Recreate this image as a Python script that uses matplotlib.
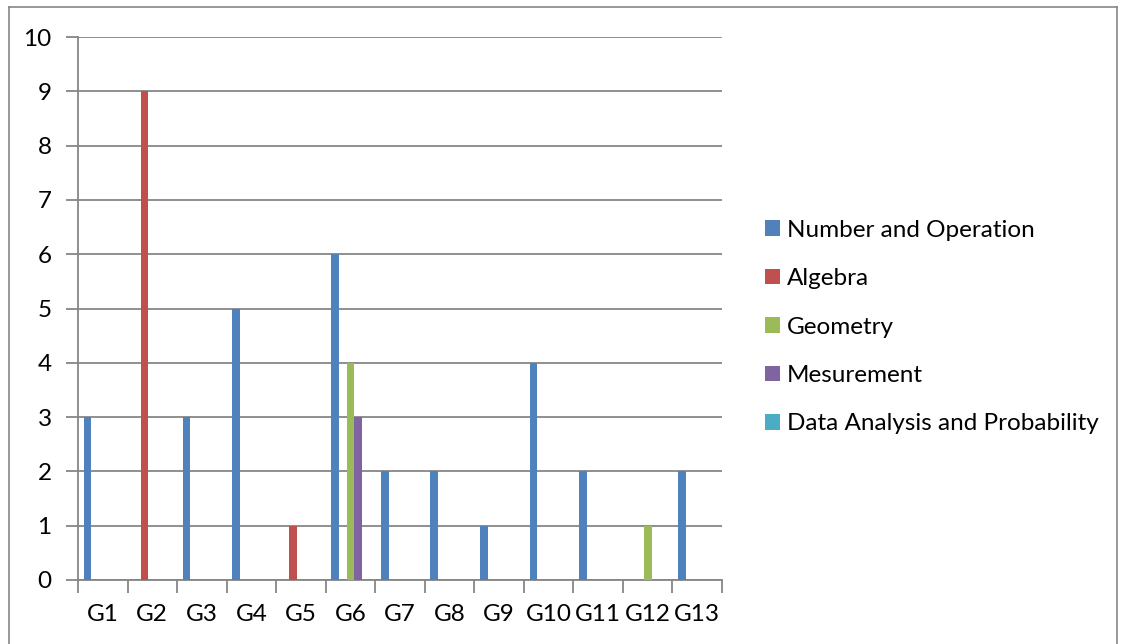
import numpy as np
import matplotlib
matplotlib.use("Agg")
import matplotlib.pyplot as plt
from matplotlib.lines import Line2D
from matplotlib.patches import Patch

plt.rcParams['font.family'] = ['Lato', 'DejaVu Sans']

# ---------------------------
# Data
# ---------------------------
groups = ["G1", "G2", "G3", "G4", "G5", "G6", "G7", "G8", "G9", "G10", "G11", "G12", "G13"]
series_names = ["Number and Operation", "Algebra", "Geometry", "Mesurement",
                "Data Analysis and Probability"]
number_operation = [3, 0, 3, 5, 0, 6, 2, 2, 1, 4, 2, 0, 2]
algebra = [0, 9, 0, 0, 1, 0, 0, 0, 0, 0, 0, 0, 0]
geometry = [0, 0, 0, 0, 0, 4, 0, 0, 0, 0, 0, 1, 0]
measurement = [0, 0, 0, 0, 0, 3, 0, 0, 0, 0, 0, 0, 0]
data_analysis = [0, 0, 0, 0, 0, 0, 0, 0, 0, 0, 0, 0, 0]
colors = ["#4F81BD", "#C0504D", "#9BBB59", "#8064A2", "#4BACC6"]

all_series = [number_operation, algebra, geometry, measurement, data_analysis]

W, H = 1122, 644
fs = 17.5
fig = plt.figure(figsize=(W / 100, H / 100), dpi=100)
ax = fig.add_axes([78 / W, 1 - 580 / H, (722 - 78) / W, (580 - 37) / H])

x = np.arange(len(groups))
n = len(all_series)
w = 1 / (n + 1.5)  # excel gap width 150%
for j, (vals, c) in enumerate(zip(all_series, colors)):
    pos = x - 0.5 + (0.75 + j + 0.5) * w
    ax.bar(pos, vals, width=w, color=c, linewidth=0, zorder=3)

grid_c = "#868686"
ax.set_xlim(-0.5, len(groups) - 0.5)
ax.set_ylim(0, 10)
ax.set_yticks(range(0, 11))
ax.yaxis.grid(True, color=grid_c, linewidth=1.3, zorder=0)
for s in ["top", "right"]:
    ax.spines[s].set_visible(False)
for s in ["left", "bottom"]:
    ax.spines[s].set_color(grid_c)
    ax.spines[s].set_linewidth(1.3)

ax.set_xticks(np.arange(len(groups) + 1) - 0.5)
ax.set_xticklabels([])
ax.set_xticks(x, minor=True)
ax.set_xticklabels(groups, minor=True)
ax.tick_params(axis="x", which="major", length=9, width=1.3, color=grid_c)
ax.tick_params(axis="x", which="minor", length=0, pad=17, labelsize=fs)
ax.tick_params(axis="y", length=9, width=1.3, color=grid_c, labelsize=fs, pad=10)

handles = [Patch(facecolor=c, edgecolor="none") for c in colors]
fig.legend(handles, series_names, loc="center left", bbox_to_anchor=(765 / W, 1 - 327 / H),
           frameon=False, fontsize=fs, handlelength=0.6, handleheight=0.6,
           handletextpad=0.3, labelspacing=1.13, borderpad=0, borderaxespad=0)

# outer chart border
fig.add_artist(Line2D([9 / W, 1117 / W], [1 - 7 / H, 1 - 7 / H], color="#868686", lw=1.2))
fig.add_artist(Line2D([9 / W, 9 / W], [0, 1 - 7 / H], color="#868686", lw=1.2))
fig.add_artist(Line2D([1117 / W, 1117 / W], [0, 1 - 7 / H], color="#868686", lw=1.2))

fig.savefig("out.png", dpi=100)
